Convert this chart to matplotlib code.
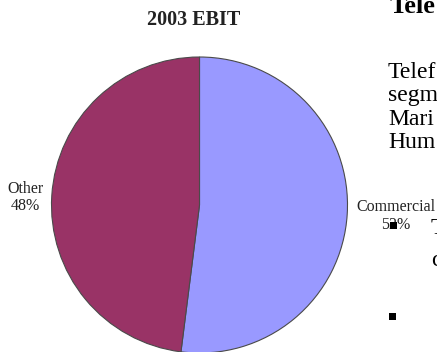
import matplotlib
matplotlib.use("Agg")
import matplotlib.pyplot as plt
from matplotlib.patches import Rectangle

# EBIT split by segment, 2003
segments = ["Commercial", "Other"]
shares = [52, 48]
colors = ["#9999FF", "#993366"]
title = "2003 EBIT"

W, H = 437, 352
fig = plt.figure(figsize=(W / 100, H / 100), dpi=100)
ax = fig.add_axes([0, 0, 1, 1])

ax.pie(
    shares,
    colors=colors,
    startangle=90,
    counterclock=False,
    center=(199.5, H - 205),
    radius=148,
    wedgeprops=dict(edgecolor="#4a4a4a", linewidth=0.8),
)
ax.set_xlim(0, W)
ax.set_ylim(0, H)
ax.set_aspect("auto")
ax.axis("off")

serif = "Liberation Serif"

ax.text(193.5, H - 20, title, ha="center", va="center", family=serif,
        fontsize=14.5, fontweight="bold", color="#222222")

# segment labels
label_pos = {"Commercial": (396, H - 216), "Other": (25, H - 197.5)}
for name, val in zip(segments, shares):
    x, y = label_pos[name]
    ax.text(x, y, f"{name}\n{val}%", ha="center", va="center", family=serif,
            fontsize=11.5, linespacing=1.15, color="#222222", zorder=3)

# adjoining page text, running off the right margin
ax.text(390, H - 13, "Tele", ha="left", va="baseline", family=serif,
        fontsize=19, fontweight="bold", color="black")
body = ["Telef", "segm", "Mari", "Hum"]
for i, line in enumerate(body):
    ax.text(388, H - 78 - 23.5 * i, line, ha="left", va="baseline",
            family=serif, fontsize=17, color="black")

for bx, by in [(393, 225), (392, 316)]:
    ax.add_patch(Rectangle((bx - 3.5, H - by - 3.5), 7, 7, facecolor="black",
                           edgecolor="none", zorder=4))

for yb, ch in [(234, "T"), (266, "c")]:
    ax.text(431, H - yb, ch, ha="left", va="baseline", family=serif,
            fontsize=17, color="black")

fig.savefig("out.png", dpi=100)
